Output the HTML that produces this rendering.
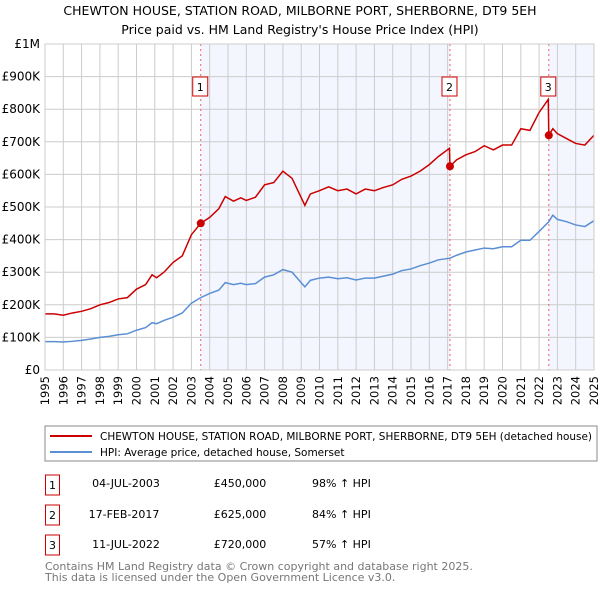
<!DOCTYPE html>
<html><head><meta charset="utf-8"><style>
body{margin:0;background:#fff;font-family:"DejaVu Sans","Liberation Sans",sans-serif;}
svg text{font-family:"DejaVu Sans","Liberation Sans",sans-serif;}
</style></head><body>
<svg id="c" width="600" height="590" xmlns="http://www.w3.org/2000/svg">
<text x="300" y="15" text-anchor="middle" font-size="12.5">CHEWTON HOUSE, STATION ROAD, MILBORNE PORT, SHERBORNE, DT9 5EH</text>
<text x="300" y="34" text-anchor="middle" font-size="12.5">Price paid vs. HM Land Registry's House Price Index (HPI)</text>
<g id="plot"></g>
<rect x="45" y="426" width="552" height="35" fill="#fff" stroke="#888"/>
<line x1="50" y1="436" x2="92" y2="436" stroke="#cc0000" stroke-width="2"/>
<text x="100" y="440" font-size="10.5" textLength="492" lengthAdjust="spacingAndGlyphs">CHEWTON HOUSE, STATION ROAD, MILBORNE PORT, SHERBORNE, DT9 5EH (detached house)</text>
<line x1="50" y1="452" x2="92" y2="452" stroke="#5b8fd4" stroke-width="2"/>
<text x="100" y="456" font-size="10.5">HPI: Average price, detached house, Somerset</text>
<g font-size="11">
<rect x="45.5" y="475" width="14" height="20" fill="#fff" stroke="#cc0000"/><text x="52.5" y="489" text-anchor="middle">1</text>
<text x="126" y="487" text-anchor="middle">04-JUL-2003</text>
<text x="240" y="487" text-anchor="middle">£450,000</text>
<text x="312" y="487">98% ↑ HPI</text>
<rect x="45.5" y="505" width="14" height="20" fill="#fff" stroke="#cc0000"/><text x="52.5" y="519" text-anchor="middle">2</text>
<text x="124" y="518" text-anchor="middle">17-FEB-2017</text>
<text x="240" y="518" text-anchor="middle">£625,000</text>
<text x="312" y="518">84% ↑ HPI</text>
<rect x="45.5" y="535" width="14" height="20" fill="#fff" stroke="#cc0000"/><text x="52.5" y="549" text-anchor="middle">3</text>
<text x="126" y="548" text-anchor="middle">11-JUL-2022</text>
<text x="240" y="548" text-anchor="middle">£720,000</text>
<text x="312" y="548">57% ↑ HPI</text>
</g>
<text x="45" y="570" font-size="11" fill="#777">Contains HM Land Registry data © Crown copyright and database right 2025.</text>
<text x="45" y="581" font-size="11" fill="#777">This data is licensed under the Open Government Licence v3.0.</text>
</svg>
<script>
const yTicks=[0,100,200,300,400,500,600,700,800,900,1000];
const yTickLabels=["£0","£100K","£200K","£300K","£400K","£500K","£600K","£700K","£800K","£900K","£1M"];
const xYears=[1995,1996,1997,1998,1999,2000,2001,2002,2003,2004,2005,2006,2007,2008,2009,2010,2011,2012,2013,2014,2015,2016,2017,2018,2019,2020,2021,2022,2023,2024,2025];
const saleDates=[2003.51,2017.13,2022.53];
const salePrices=[450,625,720];
const saleLabels=["1","2","3"];
const propYears=[1995,1995.5,1996,1996.5,1997,1997.5,1998,1998.5,1999,1999.5,2000,2000.5,2000.85,2001.1,2001.5,2002,2002.5,2003,2003.51,2004,2004.5,2004.85,2005.3,2005.7,2006,2006.5,2007,2007.5,2008,2008.5,2009.2,2009.5,2010,2010.5,2011,2011.5,2012,2012.5,2013,2013.5,2014,2014.5,2015,2015.5,2016,2016.5,2017.1,2017.13,2017.5,2018,2018.5,2019,2019.5,2020,2020.5,2021,2021.5,2022,2022.5,2022.53,2022.75,2023,2023.5,2024,2024.5,2025];
const propValues=[172,172,168,175,180,188,200,207,218,222,248,262,292,283,300,330,350,415,450,468,495,532,518,528,520,530,568,575,610,588,505,540,550,562,550,555,540,555,550,560,568,585,595,610,630,655,680,625,645,660,670,688,675,690,690,740,735,790,830,720,740,725,710,695,690,720];
const hpiYears=[1995,1995.5,1996,1996.5,1997,1997.5,1998,1998.5,1999,1999.5,2000,2000.5,2000.85,2001.1,2001.5,2002,2002.5,2003,2003.51,2004,2004.5,2004.85,2005.3,2005.7,2006,2006.5,2007,2007.5,2008,2008.5,2009.2,2009.5,2010,2010.5,2011,2011.5,2012,2012.5,2013,2013.5,2014,2014.5,2015,2015.5,2016,2016.5,2017.13,2017.5,2018,2018.5,2019,2019.5,2020,2020.5,2021,2021.5,2022,2022.53,2022.75,2023,2023.5,2024,2024.5,2025];
const hpiValues=[87,87,86,88,91,95,100,103,108,111,122,130,145,142,152,162,175,205,222,235,245,268,262,266,262,265,285,292,308,300,255,275,282,285,280,283,276,282,282,288,294,305,310,320,328,338,343,352,362,368,374,372,378,378,398,398,425,455,475,462,455,445,440,458];
const X0=45,X1=594,Y0=370,Y1=44;
const NS="http://www.w3.org/2000/svg";
const sx=y=>X0+(y-1995)/(2025-1995)*(X1-X0);
const sy=v=>Y0-v/1000*(Y0-Y1);
const g=document.getElementById('plot');
function mk(t,a){const e=document.createElementNS(NS,t);for(const k in a)e.setAttribute(k,a[k]);g.appendChild(e);return e;}
let e;
e=mk('rect',{x:sx(saleDates[0]),y:Y1,width:sx(saleDates[1])-sx(saleDates[0]),height:Y0-Y1,fill:'#f3f6fe'});


e=mk('rect',{x:sx(saleDates[2]),y:Y1,width:X1-sx(saleDates[2]),height:Y0-Y1,fill:'#f3f6fe'});


xYears.forEach(y=>{
 e=mk('line',{x1:sx(y),x2:sx(y),y1:Y1,y2:Y0,stroke:'#ccc','stroke-width':1});
 
 
 e=mk('text',{x:0,y:0,transform:`translate(${sx(y)+4},376) rotate(-90)`,'text-anchor':'end','font-size':11.5});
 e.textContent=y;
 
 
});
yTicks.forEach((v,i)=>{
 e=mk('line',{x1:X0,x2:X1,y1:sy(v),y2:sy(v),stroke:'#ccc','stroke-width':1});
 
 
 e=mk('text',{x:40,y:sy(v)+4,'text-anchor':'end','font-size':12});
 e.textContent=yTickLabels[i];
 
 
});
saleDates.forEach((d,i)=>{
 e=mk('line',{x1:sx(d),x2:sx(d),y1:Y1,y2:Y0,stroke:'#f06060','stroke-width':1,'stroke-dasharray':'2,3'});
 
 
});
e=mk('polyline',{points:hpiYears.map((y,i)=>sx(y)+','+sy(hpiValues[i])).join(' '),fill:'none',stroke:'#5b8fd4','stroke-width':1.5});


e=mk('polyline',{points:propYears.map((y,i)=>sx(y)+','+sy(propValues[i])).join(' '),fill:'none',stroke:'#cc0000','stroke-width':1.5});


saleDates.forEach((d,i)=>{
 e=mk('circle',{cx:sx(d),cy:sy(salePrices[i]),r:4,fill:'#cc0000'});
 
 
 e=mk('rect',{x:sx(d)-8,y:77,width:15,height:19,fill:'#fff',stroke:'#cc0000'});
 
 
 e=mk('text',{x:sx(d)-0.5,y:91,'text-anchor':'middle','font-size':11});
 e.textContent=saleLabels[i];
 
 
});
e=mk('rect',{x:X0,y:Y1,width:X1-X0,height:Y0-Y1,fill:'none',stroke:'#ccc'});


</script>
</body></html>
